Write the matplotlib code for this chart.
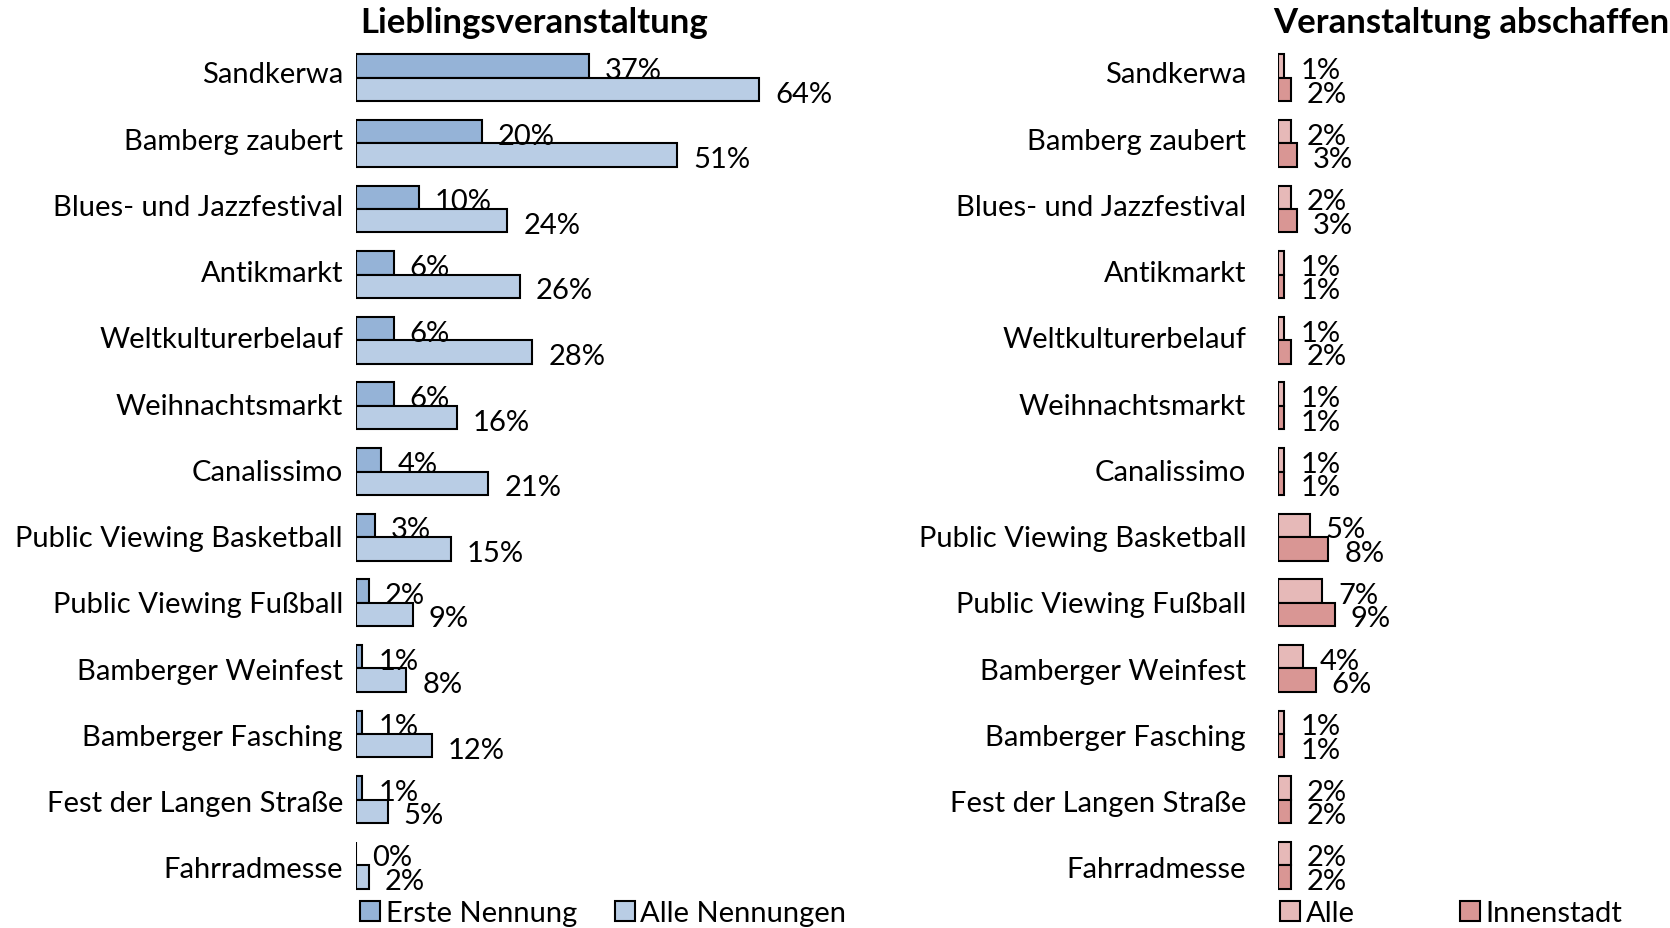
import matplotlib
matplotlib.use("Agg")
import matplotlib.pyplot as plt
import numpy as np

plt.rcParams['font.family'] = ['Lato', 'DejaVu Sans']

categories = ["Sandkerwa", "Bamberg zaubert", "Blues- und Jazzfestival", "Antikmarkt",
              "Weltkulturerbelauf", "Weihnachtsmarkt", "Canalissimo",
              "Public Viewing Basketball", "Public Viewing Fußball", "Bamberger Weinfest",
              "Bamberger Fasching", "Fest der Langen Straße", "Fahrradmesse"]
erste_nennung = [37, 20, 10, 6, 6, 6, 4, 3, 2, 1, 1, 1, 0]
alle_nennungen = [64, 51, 24, 26, 28, 16, 21, 15, 9, 8, 12, 5, 2]
abschaffen_alle = [1, 2, 2, 1, 1, 1, 1, 5, 7, 4, 1, 2, 2]
abschaffen_innenstadt = [2, 3, 3, 1, 2, 1, 1, 8, 9, 6, 1, 2, 2]

left_title = "Lieblingsveranstaltung"
right_title = "Veranstaltung abschaffen"
left_series = ["Erste Nennung", "Alle Nennungen"]
right_series = ["Alle", "Innenstadt"]

c_blue1, c_blue2 = "#95B3D7", "#B9CDE5"
c_red1, c_red2 = "#E6B9B8", "#D99694"

W, H = 1670, 929
fig = plt.figure(figsize=(W / 100, H / 100), dpi=100)

row_px = 65.6
ax_bottom = 1 - 899 / H
ax_top = 1 - 46 / H
ax_h = ax_top - ax_bottom
px_per_pct = 6.3

axL = fig.add_axes([356 / W, ax_bottom, 70 * px_per_pct / W, ax_h])
axR = fig.add_axes([1278 / W, ax_bottom, 60 * px_per_pct / W, ax_h])

y = np.arange(len(categories))
bh = 0.357
fs = 21
# category label rows are spaced slightly wider than the bar rows in the original
label_pos = y * (66.25 / row_px) - 6 / row_px

def panel(ax, v1, v2, c1, c2, title, names, xmax, colsp, tick_pad, title_dx, leg_dx):
    b1 = ax.barh(y - bh / 2, v1, height=bh, color=c1, edgecolor="black", linewidth=1.5, label=names[0])
    b2 = ax.barh(y + bh / 2, v2, height=bh, color=c2, edgecolor="black", linewidth=1.5, label=names[1])
    for bars, vals in ((b1, v1), (b2, v2)):
        for rect, v in zip(bars, vals):
            ax.annotate(f"{v}%", (rect.get_width(), rect.get_y() + rect.get_height() / 2),
                        xytext=(16, -4), textcoords="offset pixels", ha="left", va="center",
                        fontsize=fs, color="black")
    ax.set_xlim(0, xmax)
    ax.set_ylim(len(categories) - 0.5, -0.5)
    ax.set_yticks(label_pos)
    ax.set_yticklabels(categories, fontsize=fs)
    ax.tick_params(axis="y", length=0, pad=tick_pad)
    ax.set_xticks([])
    for s in ax.spines.values():
        s.set_visible(False)
    pos = ax.get_position()
    fig.text(pos.x0 + title_dx / W, 1 - 23 / H, title, fontsize=25, fontweight="bold",
             ha="left", va="center")
    leg_y = -15 / (ax_h * H)
    ax.legend(loc="center left", bbox_to_anchor=(leg_dx / (pos.width * W), leg_y), ncol=2,
              frameon=False, fontsize=fs, handlelength=0.68, handleheight=0.68,
              handletextpad=0.2, columnspacing=colsp, borderaxespad=0, borderpad=0)

panel(axL, erste_nennung, alle_nennungen, c_blue1, c_blue2, left_title, left_series, 70,
      1.3, 9.4, 4, 4)
panel(axR, abschaffen_alle, abschaffen_innenstadt, c_red1, c_red2, right_title, right_series, 60,
      3.6, 23, -5, 2)

fig.savefig("out.png", dpi=100)
